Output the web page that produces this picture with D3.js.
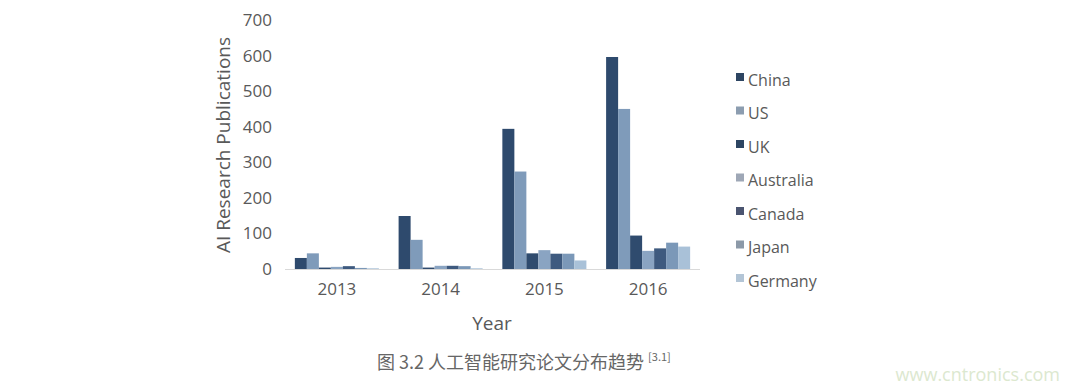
<!DOCTYPE html>
<html>
<head>
<meta charset="utf-8">
<script src="https://cdn.jsdelivr.net/npm/d3@7"></script>
<style>
  body { margin: 0; background: #fff; }
  svg text { font-family: "Open Sans", "Noto Sans", sans-serif; }
</style>
</head>
<body>
<svg id="chart" width="1080" height="389"></svg>
<script>
// AI publications by country per year
const years = ['2013', '2014', '2015', '2016'];
const countries = ['China', 'US', 'UK', 'Australia', 'Canada', 'Japan', 'Germany'];
const china = [31, 149, 394, 596];
const us = [44, 82, 274, 450];
const uk = [4, 4, 44, 94];
const australia = [6, 9, 53, 51];
const canada = [8, 9, 43, 58];
const japan = [3, 8, 43, 74];
const germany = [2, 2, 24, 63];
const yTicks = [0, 100, 200, 300, 400, 500, 600, 700];
const barColors = ['#2e4a6d', '#7f9bba', '#2f4b6e', '#8aa4c2', '#3e5a7f', '#7b98b8', '#a9c1d8'];
const swatchColors = ['#2d4562', '#8c9db0', '#2d4562', '#9ea7b6', '#4a5470', '#8c99a8', '#b3c5d6'];

const seriesValues = [china, us, uk, australia, canada, japan, germany];

const svg = d3.select('#chart');

const x0 = d3.scaleBand().domain(years).range([285, 700]).paddingInner(0.19).paddingOuter(0.095);
const x1 = d3.scaleBand().domain(countries).range([0, x0.bandwidth()]);
const y = d3.scaleLinear().domain([0, 700]).range([269, 20]);

// bars
const groups = svg.selectAll('g.year')
  .data(years)
  .enter().append('g')
  .attr('transform', d => `translate(${x0(d)},0)`);

groups.selectAll('rect')
  .data((d, i) => countries.map((c, k) => ({ c, k, v: seriesValues[k][i] })))
  .enter().append('rect')
  .attr('x', d => x1(d.c))
  .attr('width', x1.bandwidth())
  .attr('y', d => y(d.v))
  .attr('height', d => y(0) - y(d.v))
  .attr('fill', d => barColors[d.k]);

// baseline
svg.append('line')
  .attr('x1', 285).attr('x2', 700)
  .attr('y1', y(0) + 0.5).attr('y2', y(0) + 0.5)
  .attr('stroke', '#d9d9d9').attr('stroke-width', 1);

// y axis
const yAxis = svg.append('g')
  .attr('transform', 'translate(272,0)')
  .call(d3.axisLeft(y).tickValues(yTicks).tickSize(0).tickPadding(0));
yAxis.select('.domain').remove();
yAxis.selectAll('text')
  .attr('font-size', 17).attr('fill', '#595959')
  .style('font-family', '"Open Sans", sans-serif');

// x axis
const xAxis = svg.append('g')
  .attr('transform', `translate(0,${y(0)})`)
  .call(d3.axisBottom(x0).tickSize(0).tickPadding(14));
xAxis.select('.domain').remove();
xAxis.selectAll('text')
  .attr('font-size', 17).attr('fill', '#595959')
  .style('font-family', '"Open Sans", sans-serif');

// axis titles
svg.append('text')
  .attr('transform', 'translate(230,145) rotate(-90)')
  .attr('text-anchor', 'middle')
  .attr('font-size', 19).attr('fill', '#595959')
  .text('AI Research Publications');

svg.append('text')
  .attr('x', 492).attr('y', 330)
  .attr('text-anchor', 'middle')
  .attr('font-size', 19).attr('fill', '#595959')
  .text('Year');

// legend
const legend = svg.selectAll('g.legend')
  .data(countries)
  .enter().append('g')
  .attr('transform', (d, i) => `translate(736,${81 + i * 33.5})`);

legend.append('rect')
  .attr('x', 0).attr('y', -8)
  .attr('width', 8).attr('height', 8)
  .attr('fill', (d, i) => swatchColors[i]);

legend.append('text')
  .attr('x', 12).attr('y', 0)
  .attr('dy', '0.3em')
  .attr('font-size', 16).attr('fill', '#595959')
  .text(d => d);

// caption
const caption = svg.append('text')
  .attr('x', 377).attr('y', 369)
  .attr('font-size', 18).attr('fill', '#666')
  .style('font-family', '"Noto Sans CJK SC", sans-serif');
caption.append('tspan').text('图 3.2 人工智能研究论文分布趋势 ');
caption.append('tspan')
  .attr('font-size', 11).attr('dy', -8)
  .text('[3.1]');

// watermark
svg.append('text')
  .attr('x', 1060).attr('y', 381)
  .attr('text-anchor', 'end')
  .attr('font-size', 18).attr('fill', '#dce8cf')
  .text('www.cntronics.com');
</script>
</body>
</html>
